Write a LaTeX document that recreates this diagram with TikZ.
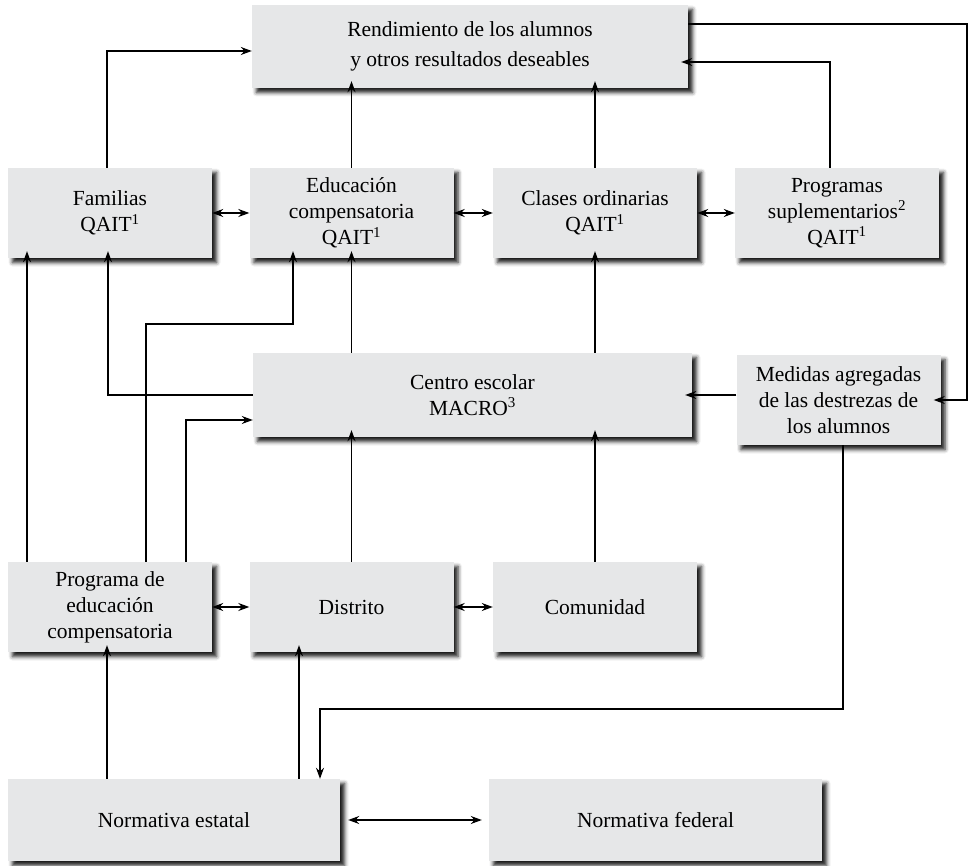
\documentclass[tikz,border=0pt]{standalone}
\usepackage{fontspec}
\setmainfont{Liberation Serif}
\usepackage{xcolor}
\usetikzlibrary{arrows.meta,shadows.blur}

\definecolor{boxgray}{HTML}{E6E7E8}

\begin{document}
\begin{tikzpicture}[x=1pt, y=-1pt,
    box/.style={fill=boxgray, inner sep=0pt, align=center,
        minimum width=204pt, minimum height=90pt,
        font=\rmfamily\fontsize{21.5}{26}\selectfont,
        blur shadow={shadow xshift=4.5pt, shadow yshift=-4.5pt,
            shadow blur radius=4pt, shadow opacity=90}},
    widebox/.style={box, minimum width=#1, minimum height=83pt},
    arr/.style={-{Stealth[length=11pt,width=8pt]}, line width=1.3pt},
    dbl/.style={{Stealth[length=11pt,width=8pt]}-{Stealth[length=11pt,width=8pt]}, line width=1.3pt},
    tosh/.style={shorten >=-7pt}]
\useasboundingbox (0,0) rectangle (970,866);

% Top row
\node[widebox=436pt, font=\rmfamily\fontsize{21.5}{30}\selectfont] (rend) at (470,46.5)
    {Rendimiento de los alumnos\\ y otros resultados deseables};

% Classroom level
\node[box] (fam) at (110,213) {Familias\\ QAIT\textsuperscript{1}};
\node[box] (edu) at (351.5,213) {Educación\\ compensatoria\\ QAIT\textsuperscript{1}};
\node[box] (cla) at (595,213) {Clases ordinarias\\ QAIT\textsuperscript{1}};
\node[box] (sup) at (837,213) {Programas\\ suplementarios\textsuperscript{2}\\ QAIT\textsuperscript{1}};

% School level
\node[widebox=439pt, minimum height=84pt] (cen) at (472.5,395) {Centro escolar\\ MACRO\textsuperscript{3}};
\node[box] (med) at (838.5,400) {Medidas agregadas\\ de las destrezas de\\ los alumnos};

% District level
\node[box] (prog) at (110,607) {Programa de\\ educación\\ compensatoria};
\node[box] (dis) at (351.5,607) {Distrito};
\node[box] (com) at (595,607) {Comunidad};

% Policy level
\node[widebox=332pt, minimum height=82pt] (est) at (174,820) {Normativa estatal};
\node[widebox=333pt, minimum height=82pt] (fed) at (655.5,820) {Normativa federal};

% Bend points
\coordinate (k1) at (293,324);
\coordinate (k2) at (320,709);
\coordinate (rt) at (967,400);

% Up to the outcomes
\draw[arr] ([xshift=-3pt]fam.north) |- ([yshift=-4.5pt]rend.west);
\draw[arr, tosh] (edu.north) -- (edu.north |- rend.south);
\draw[arr, tosh] (cla.north) -- (cla.north |- rend.south);
\draw[arr, tosh] ([xshift=-7pt]sup.north) |- ([yshift=-15.5pt]rend.east);
\draw[arr, tosh] ([yshift=22.5pt]rend.east) -| (rt) -- (med.east);

% Links between classroom boxes
\draw[dbl] (fam.east) -- (edu.west);
\draw[dbl] (edu.east) -- (cla.west);
\draw[dbl] (cla.east) -- (sup.west);

% From the school
\draw[arr, tosh] (edu.south |- cen.north) -- (edu.south);
\draw[arr, tosh] (cla.south |- cen.north) -- (cla.south);
\draw[arr, tosh] (cen.west) -| ([xshift=-2pt]fam.south);
\draw[arr, tosh] (med.west |- cen.east) -- (cen.east);

% From the compensatory programme
\draw[arr, tosh] ([xshift=-83pt]prog.north) -- ([xshift=-83pt]fam.south);
\draw[arr, tosh] ([xshift=36pt]prog.north) |- (k1) -- (k1 |- edu.south);
\draw[arr] ([xshift=76pt]prog.north) |- ([yshift=-25pt]cen.west);

% District level links
\draw[arr, tosh] (dis.north) -- (dis.north |- cen.south);
\draw[arr, tosh] (com.north) -- (com.north |- cen.south);
\draw[dbl] (prog.east) -- (dis.west);
\draw[dbl] (dis.east) -- (com.west);

% Policy level
\draw[arr] ([xshift=4.5pt]med.south) |- (k2) -- (k2 |- est.north);
\draw[arr, tosh] ([xshift=-67pt]est.north) -- ([xshift=-3pt]prog.south);
\draw[arr, tosh] ([xshift=125pt]est.north) -- ([xshift=-52.5pt]dis.south);
\draw[dbl, shorten <=8pt, shorten >=7pt] (est.east) -- (fed.west);

\end{tikzpicture}
\end{document}
